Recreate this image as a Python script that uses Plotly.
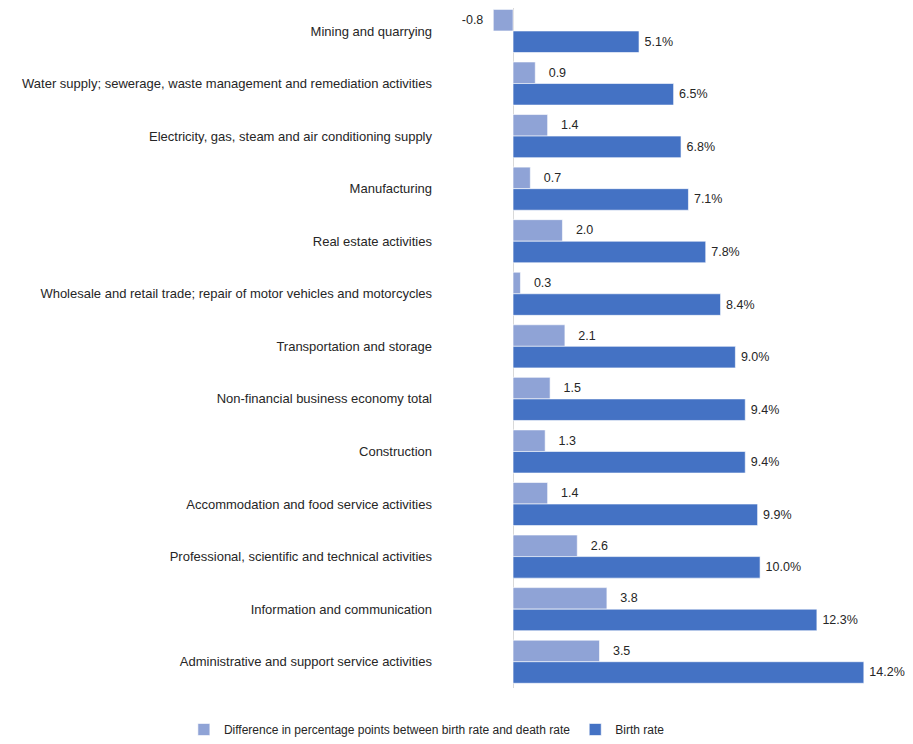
import plotly.graph_objects as go

categories = [
    "Mining and quarrying",
    "Water supply; sewerage, waste management and remediation activities",
    "Electricity, gas, steam and air conditioning supply",
    "Manufacturing",
    "Real estate activities",
    "Wholesale and retail trade; repair of motor vehicles and motorcycles",
    "Transportation and storage",
    "Non-financial business economy total",
    "Construction",
    "Accommodation and food service activities",
    "Professional, scientific and technical activities",
    "Information and communication",
    "Administrative and support service activities",
]
difference = [-0.8, 0.9, 1.4, 0.7, 2.0, 0.3, 2.1, 1.5, 1.3, 1.4, 2.6, 3.8, 3.5]
birth_rate = [5.1, 6.5, 6.8, 7.1, 7.8, 8.4, 9.0, 9.4, 9.4, 9.9, 10.0, 12.3, 14.2]

FONT = "Liberation Sans, Arial, sans-serif"
TXT = "#262626"

fig = go.Figure()
fig.add_trace(go.Bar(
    y=categories, x=difference, orientation="h",
    name="Difference in percentage points between birth rate and death rate",
    marker=dict(color="#8FA3D6", line=dict(color="white", width=0.6)),
    texttemplate=["%{x:.1f}  " if v < 0 else "   %{x:.1f}" for v in difference],
    textposition="outside", cliponaxis=False, constraintext="none",
    textfont=dict(family=FONT, size=12.5, color=TXT),
))
fig.add_trace(go.Bar(
    y=categories, x=birth_rate, orientation="h",
    name="Birth rate",
    marker=dict(color="#4472C4", line=dict(color="white", width=0.6)),
    texttemplate="\u2009%{x:.1f}%",
    textposition="outside", cliponaxis=False, constraintext="none",
    textfont=dict(family=FONT, size=12.5, color=TXT),
))

fig.update_layout(
    width=905, height=736,
    barmode="group", bargap=0.18, bargroupgap=0,
    plot_bgcolor="white", paper_bgcolor="white",
    margin=dict(l=425, r=0, t=0, b=55),
    font=dict(family=FONT, size=13, color=TXT),
    xaxis=dict(range=[-3.24, 16.19], showgrid=False, showticklabels=False, ticks="",
               zeroline=True, zerolinecolor="#D9D9D9", zerolinewidth=1, fixedrange=True),
    yaxis=dict(range=[12.5, -0.437], showgrid=False, ticks="", automargin=False,
               tickfont=dict(family=FONT, size=13, color=TXT)),
    legend=dict(orientation="h", xref="paper", yref="paper",
                x=-0.519, y=-0.0617, xanchor="left", yanchor="middle",
                font=dict(family=FONT, size=12, color=TXT), itemwidth=30,
                traceorder="normal"),
    showlegend=True,
)

fig.write_html("out.html")
